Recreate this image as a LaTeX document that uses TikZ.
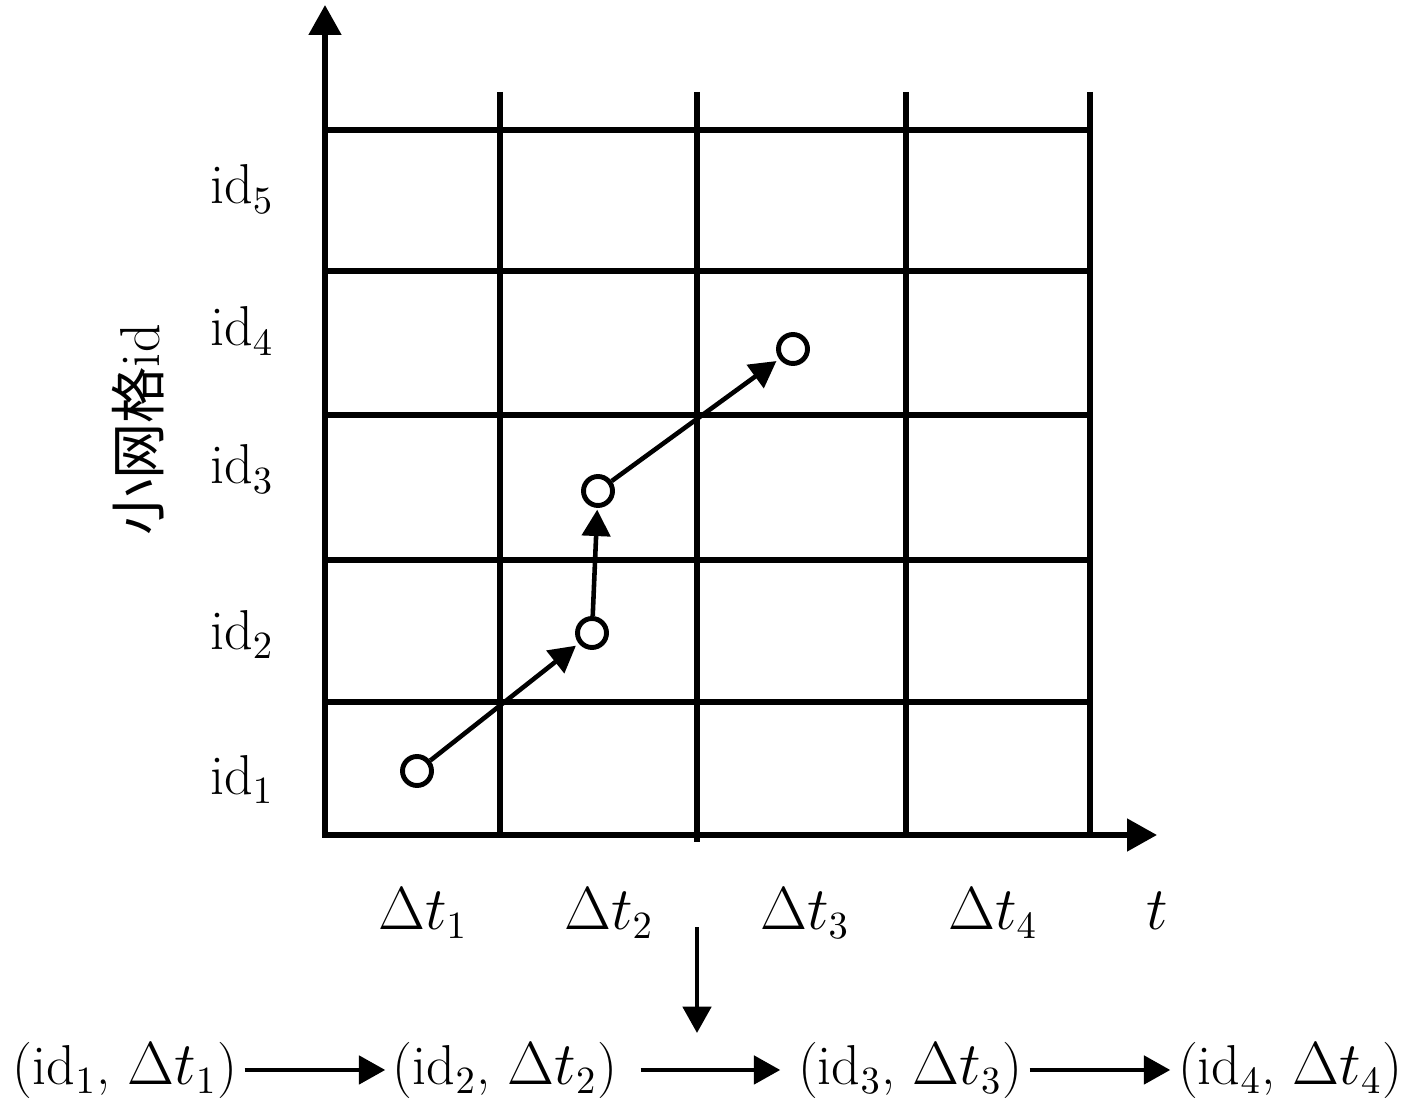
\documentclass[tikz,border=0pt]{standalone}
\usepackage{fontspec}
\newfontfamily\cjk{Noto Sans CJK SC}
\usetikzlibrary{arrows.meta}

\begin{document}
\begin{tikzpicture}[
    every node/.style={font=\fontsize{16}{19}\selectfont},
    gridline/.style={line width=1.6pt},
    axis/.style={line width=1.6pt,-{Triangle[length=8.5pt,width=9pt]}},
    flow/.style={line width=1.3pt,-{Triangle[length=7.5pt,width=8pt]}},
    cell/.style={circle,draw,line width=1.4pt,minimum size=0.29cm,inner sep=0pt},
    pair/.style={anchor=base,inner sep=2pt}]
    \useasboundingbox (0,0) rectangle (14.17,-11.06);
    % grid
    \foreach \y in {1.30,2.71,4.15,5.60,7.02}
        \draw[gridline] (3.25,-\y) -- (10.90,-\y);
    \foreach \x in {5.00,9.06,10.90}
        \draw[gridline] (\x,-0.92) -- (\x,-8.35);
    \draw[gridline] (6.97,-0.92) -- (6.97,-8.42);
    % axes
    \coordinate (O) at (3.25,-8.35);
    \coordinate (ytip) at (3.25,-0.05);
    \coordinate (xtip) at (11.57,-8.35);
    \draw[axis] (3.22,-8.35) -- (xtip);
    \draw[axis] (O) -- (ytip);
    \node[rotate=90] (ylab) at (1.38,-4.30) {{\cjk 小网格}id};
    % cell ids
    \node[anchor=base] (id5) at (2.42,-2.04) {id$_5$};
    \node[anchor=base] (id4) at (2.42,-3.46) {id$_4$};
    \node[anchor=base] (id3) at (2.42,-4.84) {id$_3$};
    \node[anchor=base] (id2) at (2.42,-6.49) {id$_2$};
    \node[anchor=base] (id1) at (2.42,-7.94) {id$_1$};
    % time slots
    \node[anchor=base] (dt1) at (4.23,-9.29) {$\Delta t_1$};
    \node[anchor=base] (dt2) at (6.09,-9.29) {$\Delta t_2$};
    \node[anchor=base] (dt3) at (8.05,-9.29) {$\Delta t_3$};
    \node[anchor=base] (dt4) at (9.93,-9.29) {$\Delta t_4$};
    \node[anchor=base] (tlab) at (11.57,-9.29) {$t$};
    % trajectory
    \node[cell] (c1) at (4.17,-7.71) {};
    \node[cell] (c2) at (5.92,-6.33) {};
    \node[cell] (c3) at (5.98,-4.91) {};
    \node[cell] (c4) at (7.93,-3.49) {};
    \draw[flow,shorten >=1pt] (c1) -- (c2);
    \draw[flow,shorten >=0.5pt] (c2) -- (c3);
    \draw[flow,shorten >=1pt] (c3) -- (c4);
    % sequence
    \coordinate (down1) at (6.97,-9.27);
    \coordinate (down2) at (6.97,-10.33);
    \draw[flow] (down1) -- (down2);
    \node[pair] (b1) at (1.25,-10.84) {(id$_1$, $\Delta t_1$)};
    \node[pair] (b2) at (5.05,-10.84) {(id$_2$, $\Delta t_2$)};
    \node[pair] (b3) at (9.10,-10.84) {(id$_3$, $\Delta t_3$)};
    \node[pair] (b4) at (12.90,-10.84) {(id$_4$, $\Delta t_4$)};
    \draw[flow] (b1) -- (b2);
    \draw[flow,shorten <=0.16cm,shorten >=0.1cm] (b2) -- (b3);
    \draw[flow] (b3) -- (b4);
\end{tikzpicture}
\end{document}
